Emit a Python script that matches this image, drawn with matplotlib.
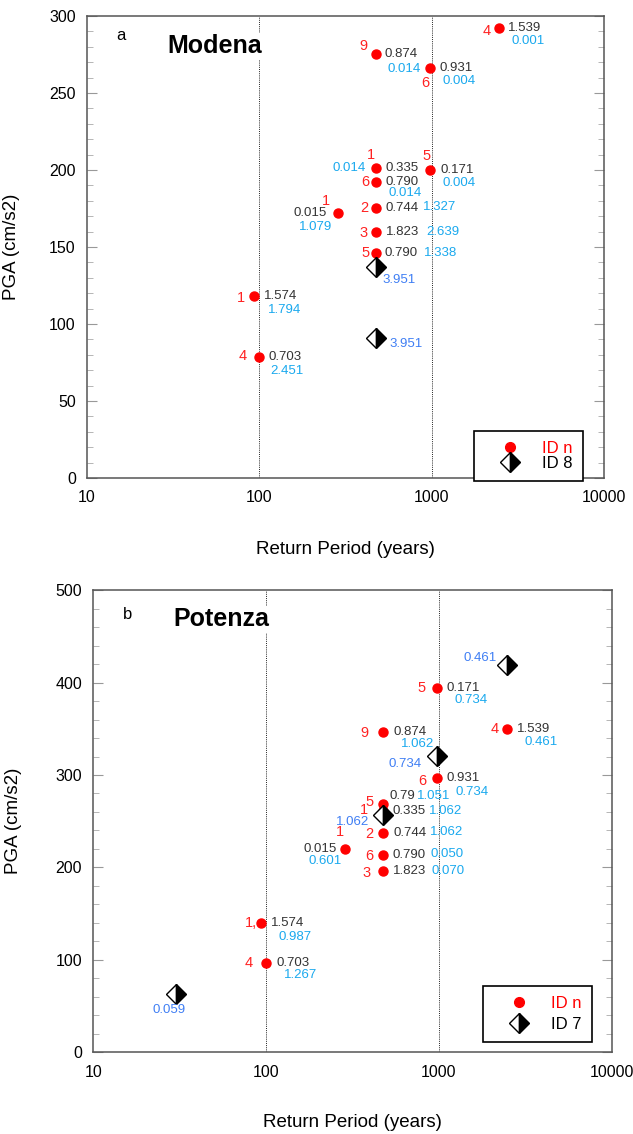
import matplotlib
matplotlib.use("Agg")
import matplotlib.pyplot as plt
from matplotlib.lines import Line2D
from matplotlib.ticker import MultipleLocator, NullLocator

plt.rcParams['font.family'] = ['Liberation Sans', 'DejaVu Sans']

RED = '#FF0000'
RED_TXT = '#FF2222'
DARK = '#333333'
SKY = '#1AA9EE'
ROYAL = '#3F7EF4'

# ---- Modena (panel a) ----
MOD_RP = [2475, 475, 975, 475, 975, 475, 285, 475, 475, 475, 93, 100]
MOD_PGA = [292, 275, 266.5, 201, 200, 192.5, 172, 175, 159.5, 146, 118, 78.5]
MOD_ID = ['4', '9', '6', '1', '5', '6', '1', '2', '3', '5', '1', '4']
MOD_VAL = ['1.539', '0.874', '0.931', '0.335', '0.171', '0.790', '0.015', '0.744',
           '1.823', '0.790', '1.574', '0.703']
MOD_ERR = ['0.001', '0.014', '0.004', '0.014', '0.004', '0.014', '1.079', '1.327',
           '2.639', '1.338', '1.794', '2.451']
MOD_D_RP = [475, 475]
MOD_D_PGA = [137, 91]
MOD_D_ERR = ['3.951', '3.951']

# ---- Potenza (panel b) ----
POT_RP = [975, 475, 2475, 975, 475, 475, 475, 285, 475, 475, 93, 100]
POT_PGA = [394, 346.5, 350, 296.5, 268.5, 261, 237.5, 220, 214, 196, 140.5, 97]
POT_ID = ['5', '9', '4', '6', '5', '1', '2', '1', '6', '3', '1,', '4']
POT_VAL = ['0.171', '0.874', '1.539', '0.931', '0.79', '0.335', '0.744', '0.015',
           '0.790', '1.823', '1.574', '0.703']
POT_ERR = ['0.734', '1.062', '0.461', '0.734', '1.051', '1.062', '1.062', '0.601',
           '0.050', '0.070', '0.987', '1.267']
POT_D_RP = [2475, 975, 475, 30]
POT_D_PGA = [419, 320.5, 257, 63]
POT_D_ERR = ['0.461', '0.734', '1.062', '0.059']

# label offsets in pixels (dx right, dy up) relative to each marker
MOD_OFF_ID = [(-13, -2.7), (-12, 8), (-4, -15.6), (-5.3, 13.3), (-3.4, 14), (-11, 0),
              (-11.7, 12.3), (-12, 0), (-12.6, -0.6), (-10.7, 0), (-13.3, -1.3), (-17, 1)]
MOD_OFF_VAL = [(9, 0.3), (9, 0.7), (9.7, 0), (10, 0), (10.3, 0), (9.3, 0),
               (-10.7, 0), (10, 0), (10, 0), (8.3, 0), (10, 0), (9.4, 0)]
MOD_OFF_ERR = [(12, -12.7), (12, -14.7), (12.7, -13), (-10, 0.6), (12.6, -13.3), (12.3, -11.6),
               (-5.7, -13.4), (47.4, 1.3), (50, 0), (48.3, 0), (14.4, -14), (11.4, -14)]
MOD_OFF_D = [((6.7, -12.6), 'left'), ((13.8, -6.3), 'left')]

POT_OFF_ID = [(-15, 0), (-18.3, -0.7), (-12.5, 0), (-14.3, -2.4), (-13.4, 2.3), (-18.7, 1.5),
              (-14, -1.6), (-5, 17.3), (-14, -1.4), (-16, -2.3), (-10, -0.6), (-17, 0)]
POT_OFF_VAL = [(9.3, 0), (10.2, 0), (10.6, 0), (10, 0), (6.6, 8.3), (10, 0),
               (10.3, 0), (-7.7, 0), (9.4, 0), (10, 0), (10.1, 0), (10.2, 0)]
POT_OFF_ERR = [(17.4, -12.4), (17.9, -12.3), (17.5, -13), (18.4, -13.7), (34.3, 8.3), (45.7, 0),
               (47, 1), (-2.7, -12), (47.7, 1), (49, 0), (18.2, -14), (17.4, -12.3)]
POT_OFF_D = [((-10, 7.3), 'right'), ((-15.4, -7.7), 'right'), ((-13.5, -7.5), 'right'),
             ((-7, -15.7), 'center')]

PX = 72 / 100.0  # pixel -> point


def _note(ax, x, y, s, off, color, size, ha=None):
    dx, dy = off
    if ha is None:
        ha = 'left' if dx >= 0 else 'right'
    ax.annotate(s, (x, y), xytext=(dx * PX, dy * PX), textcoords='offset points',
                ha=ha, va='center', color=color, fontsize=size, zorder=6)


def draw_panel(ax, rp, pga, ids, vals, errs, d_rp, d_pga, d_errs,
               off_id, off_val, off_err, off_d, ymax, ymajor, yminor,
               letter, city, diamond_name, leg_anchor, leg_spacing):
    ax.set_xscale('log')
    ax.set_xlim(10, 10000)
    ax.set_ylim(0, ymax)
    ax.set_xticks([10, 100, 1000, 10000])
    ax.set_xticklabels(['10', '100', '1000', '10000'])
    ax.xaxis.set_minor_locator(NullLocator())
    ax.yaxis.set_major_locator(MultipleLocator(ymajor))
    ax.yaxis.set_minor_locator(MultipleLocator(yminor))
    ax.tick_params(axis='x', length=0, pad=9, labelsize=11.5)
    ax.tick_params(axis='y', which='major', direction='in', length=7, color='#999999',
                   left=True, right=True, pad=8, labelsize=11.5)
    ax.tick_params(axis='y', which='minor', direction='in', length=4, color='#aaaaaa',
                   left=True, right=True)
    for sp in ax.spines.values():
        sp.set_color('#555555')
        sp.set_linewidth(1.1)

    for xv in (100, 1000):
        ax.axvline(xv, color='#222222', lw=0.7, ls=(0, (1, 1.2)), zorder=1)

    ax.plot(rp, pga, 'o', color=RED, ms=6.5, mec=RED, ls='none', zorder=3)
    ax.plot(d_rp, d_pga, 'D', ms=10, fillstyle='left', mfc='white', mfcalt='black',
            mec='black', mew=1.0, ls='none', zorder=4)

    for i in range(len(rp)):
        _note(ax, rp[i], pga[i], ids[i], off_id[i], RED_TXT, 10.5, ha='center')
        _note(ax, rp[i], pga[i], vals[i], off_val[i], DARK, 9.5)
        _note(ax, rp[i], pga[i], errs[i], off_err[i], SKY, 9.5)
    for i in range(len(d_rp)):
        off, ha = off_d[i]
        _note(ax, d_rp[i], d_pga[i], d_errs[i], off, ROYAL, 9.5, ha=ha)

    ax.text(0.057, letter[1], letter[0], transform=ax.transAxes, fontsize=12,
            ha='left', va='center')
    ax.text(0.155, city[1], city[0], transform=ax.transAxes, fontsize=18,
            fontweight='bold', ha='left', va='center', zorder=5,
            bbox=dict(facecolor='white', edgecolor='none', pad=1))

    handles = [
        Line2D([], [], marker='o', color=RED, ms=7, ls='none'),
        Line2D([], [], marker='D', ms=10, fillstyle='left', mfc='white', mfcalt='black',
               mec='black', mew=1.0, ls='none'),
    ]
    leg = ax.legend(handles, ['ID n', diamond_name], loc='lower right',
                    bbox_to_anchor=leg_anchor, fontsize=12, frameon=True, fancybox=False,
                    framealpha=1, edgecolor='black', borderpad=0.6, handlelength=3.1,
                    handletextpad=0.4, labelspacing=leg_spacing, borderaxespad=0)
    leg.get_frame().set_linewidth(1.2)
    leg.get_texts()[0].set_color(RED)
    leg.get_texts()[1].set_color('black')

    ax.set_xlabel('Return Period (years)', fontsize=13.5)
    ax.set_ylabel('PGA (cm/s2)', fontsize=13.5)


fig = plt.figure(figsize=(6.33, 11.34), dpi=100)
ax1 = fig.add_axes([0.1374, 0.5785, 0.8167, 0.4074])
ax2 = fig.add_axes([0.1474, 0.0719, 0.8188, 0.4078])

draw_panel(ax1, MOD_RP, MOD_PGA, MOD_ID, MOD_VAL, MOD_ERR, MOD_D_RP, MOD_D_PGA, MOD_D_ERR,
           MOD_OFF_ID, MOD_OFF_VAL, MOD_OFF_ERR, MOD_OFF_D, 300, 50, 10,
           ('a', 0.957), ('Modena', 0.935), 'ID 8', (0.959, -0.0065), 0.0)
draw_panel(ax2, POT_RP, POT_PGA, POT_ID, POT_VAL, POT_ERR, POT_D_RP, POT_D_PGA, POT_D_ERR,
           POT_OFF_ID, POT_OFF_VAL, POT_OFF_ERR, POT_OFF_D, 500, 100, 20,
           ('b', 0.948), ('Potenza', 0.937), 'ID 7', (0.962, 0.0227), 0.35)

ax1.xaxis.set_label_coords(0.499, -0.154)
ax1.xaxis.label.set_va('center')
ax1.yaxis.set_label_coords(-0.129, 0.5)
ax2.xaxis.set_label_coords(0.5, -0.152)
ax2.xaxis.label.set_va('center')
ax2.yaxis.set_label_coords(-0.137, 0.5)

fig.savefig('out.png', dpi=100)
